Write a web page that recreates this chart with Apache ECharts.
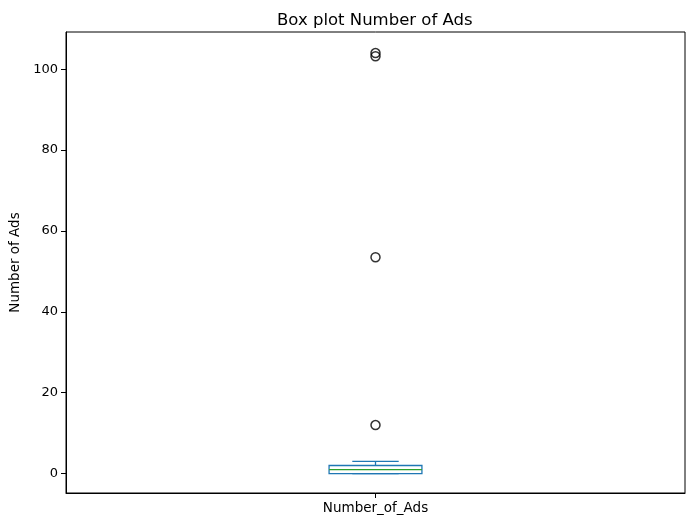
<!DOCTYPE html>
<html>
<head>
<meta charset="utf-8">
<script src="https://cdn.jsdelivr.net/npm/echarts@6/dist/echarts.min.js"></script>
<style>html,body{margin:0;padding:0;background:#fff;}#c{width:695px;height:528px;}</style>
</head>
<body>
<div id="c"></div>
<script>
const categories = ['Number_of_Ads'];
// [lowerWhisker, Q1, median, Q3, upperWhisker]
const boxStats = [[0, 0, 1, 2, 3]];
const outliers = [12, 53.5, 103.2, 104];
const yTicks = [0, 20, 40, 60, 80, 100];

const chart = echarts.init(document.getElementById('c'), null, {renderer: 'canvas'});
const FONT = 'DejaVu Sans';
const blue = '#1f77b4', green = '#2ca02c';
const catPos = categories.map((c, i) => i + 1);

chart.setOption({
  animation: false,
  backgroundColor: '#fff',
  title: {
    text: 'Box plot Number of Ads', left: 272, top: 7,
    textStyle: {fontFamily: FONT, fontSize: 16.5, fontWeight: 'normal', color: '#000'}
  },
  grid: {left: 66, top: 32, right: 10, bottom: 35, show: true, borderColor: '#000', borderWidth: 1, backgroundColor: 'transparent'},
  xAxis: {
    type: 'value', min: 0.5, max: categories.length + 0.5,
    axisLine: {show: true, onZero: false, lineStyle: {color: '#000', width: 1}},
    axisTick: {show: true, length: 5, lineStyle: {color: '#000'}, customValues: catPos},
    axisLabel: {fontFamily: FONT, fontSize: 13.5, color: '#000', margin: 8, customValues: catPos,
      formatter: v => categories[Math.round(v) - 1] || ''},
    splitLine: {show: false}
  },
  yAxis: {
    type: 'value', min: -4.8, max: 109.2,
    name: 'Number of Ads', nameLocation: 'middle', nameGap: 44,
    nameTextStyle: {fontFamily: FONT, fontSize: 13.5, color: '#000'},
    axisLine: {show: true, onZero: false, lineStyle: {color: '#000', width: 1}},
    axisTick: {show: true, length: 5, lineStyle: {color: '#000'}, customValues: yTicks},
    axisLabel: {fontFamily: FONT, fontSize: 13, color: '#000', margin: 8, customValues: yTicks},
    splitLine: {show: false}
  },
  series: [
    {
      type: 'custom',
      data: boxStats.map((s, i) => [i + 1].concat(s)),
      renderItem: function (params, api) {
        const pos = api.value(0);
        const band = api.size([1, 0])[0];
        const bw = band * 0.15;
        const cw = bw * 0.5;
        const c = api.coord([pos, 0])[0];
        const yLo = api.coord([pos, api.value(1)])[1];
        const yQ1 = api.coord([pos, api.value(2)])[1];
        const yMed = api.coord([pos, api.value(3)])[1];
        const yQ3 = api.coord([pos, api.value(4)])[1];
        const yHi = api.coord([pos, api.value(5)])[1];
        const ls = {stroke: blue, lineWidth: 1.3, fill: null};
        return {
          type: 'group',
          children: [
            {type: 'line', shape: {x1: c, y1: yQ1, x2: c, y2: yLo}, style: ls},
            {type: 'line', shape: {x1: c, y1: yQ3, x2: c, y2: yHi}, style: ls},
            {type: 'line', shape: {x1: c - cw / 2, y1: yLo, x2: c + cw / 2, y2: yLo}, style: ls},
            {type: 'line', shape: {x1: c - cw / 2, y1: yHi, x2: c + cw / 2, y2: yHi}, style: ls},
            {type: 'rect', shape: {x: c - bw / 2, y: yQ3, width: bw, height: yQ1 - yQ3}, style: {stroke: blue, lineWidth: 1.3, fill: 'none'}},
            {type: 'line', shape: {x1: c - bw / 2, y1: yMed, x2: c + bw / 2, y2: yMed}, style: {stroke: green, lineWidth: 1.3}}
          ]
        };
      }
    },
    {
      type: 'scatter',
      data: outliers.map(v => [1, v]),
      symbol: 'circle', symbolSize: 9,
      itemStyle: {color: 'transparent', borderColor: '#000', borderWidth: 1.5},
      z: 5
    }
  ]
});
</script>
</body>
</html>
